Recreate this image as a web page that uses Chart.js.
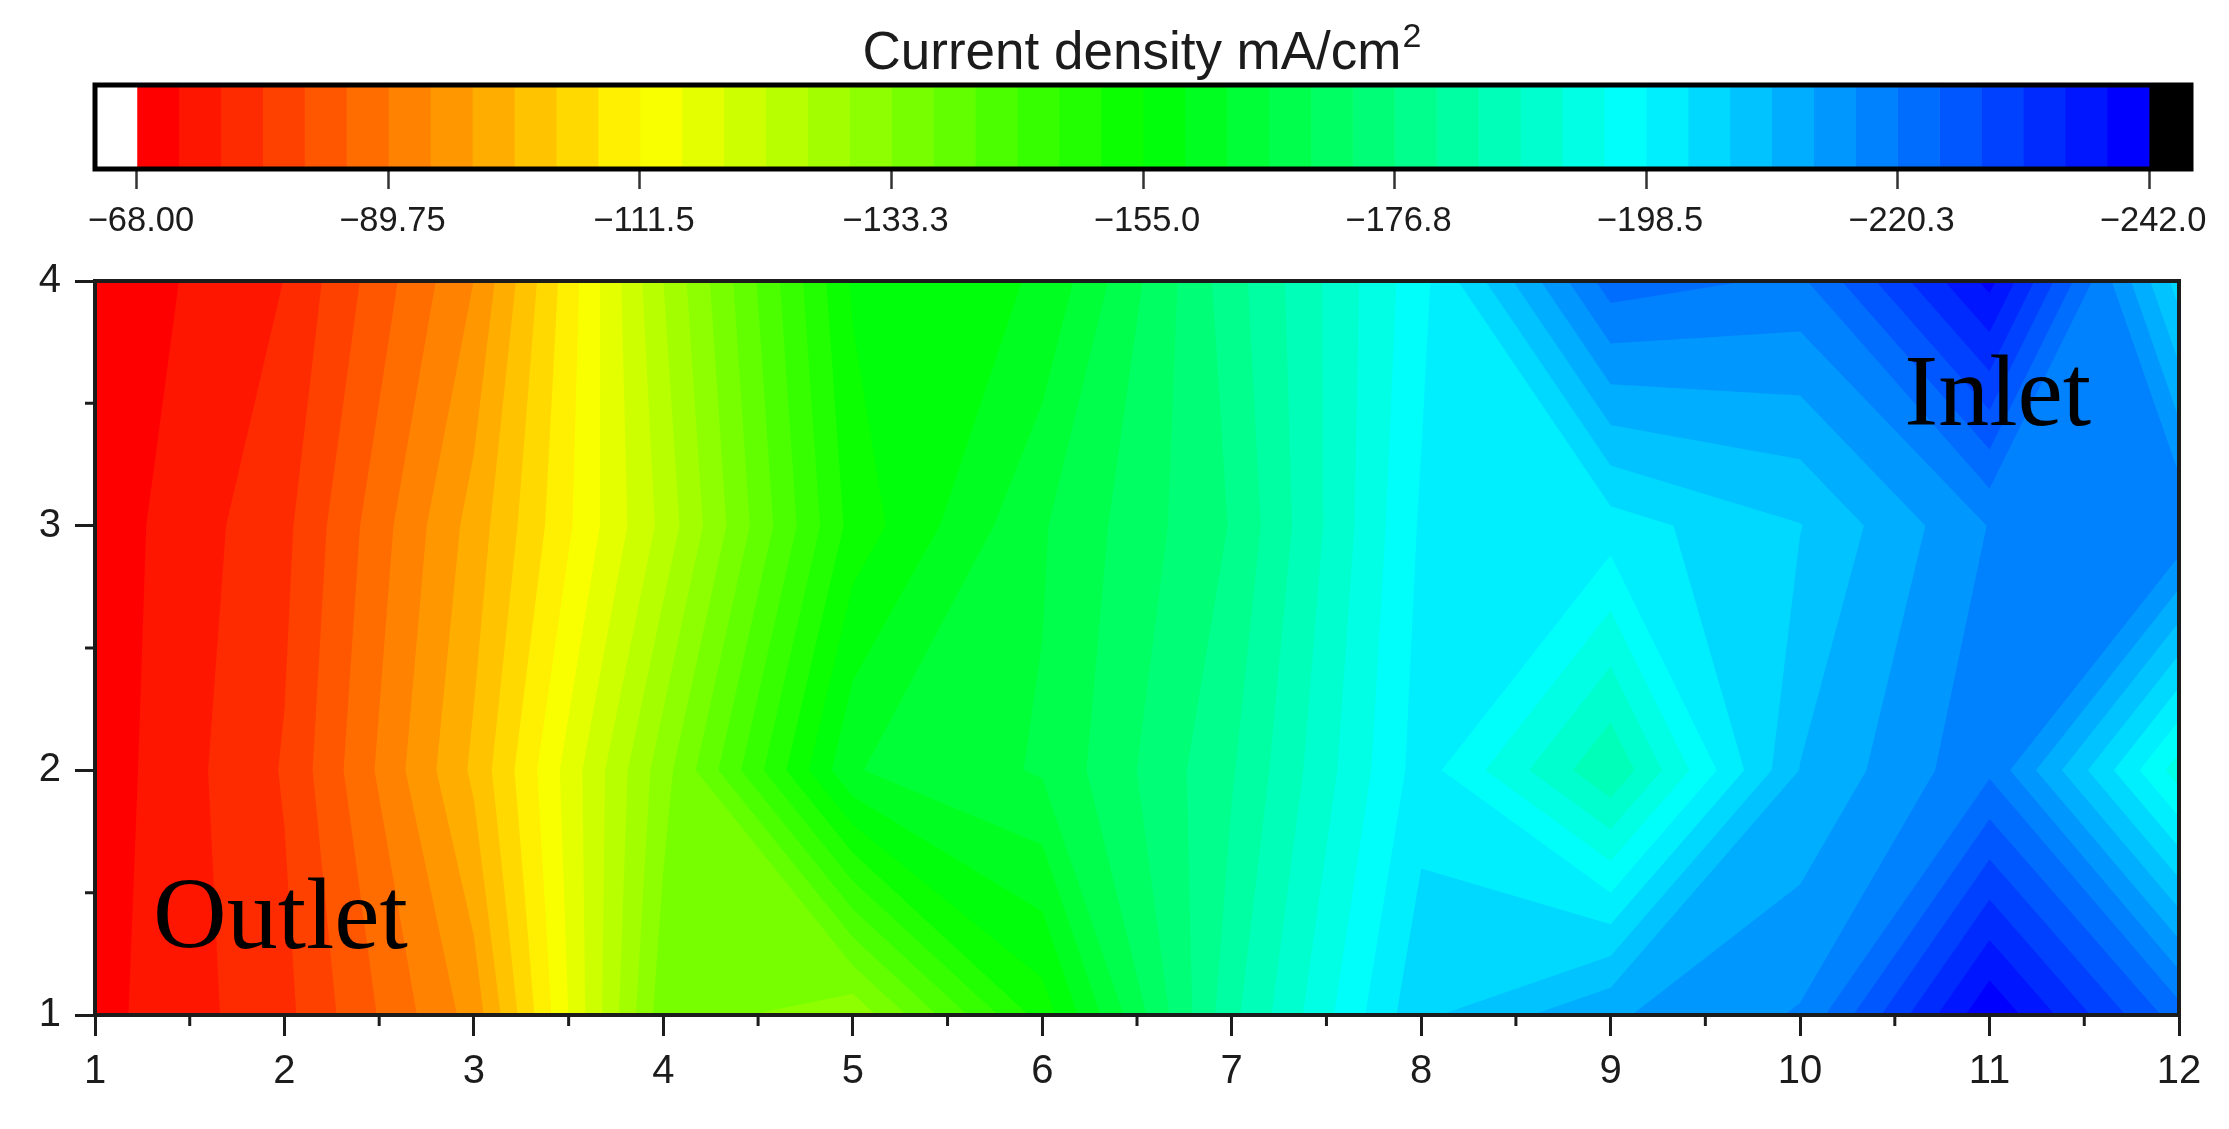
<!DOCTYPE html>
<html>
<head>
<meta charset="utf-8">
<title>Current density</title>
<script src="https://cdn.jsdelivr.net/npm/chart.js@4"></script>
<style>
    html, body { margin: 0; padding: 0; background: #fff; }
    canvas { display: block; }
</style>
</head>
<body>
<canvas id="colorbar" width="2229" height="243"></canvas>
<canvas id="contour" width="2229" height="886"></canvas>
<script>
// Grid of the contour plot
const xValues = [1, 2, 3, 4, 5, 6, 7, 8, 9, 10, 11, 12];
const yValues = [1, 2, 3, 4];
const xMinorTicks = [1.5, 2.5, 3.5, 4.5, 5.5, 6.5, 7.5, 8.5, 9.5, 10.5, 11.5];
const yMinorTicks = [1.5, 2.5, 3.5];

// Current density, one list per y row
const currentY1 = [-70.3, -77.8, -94.9, -135.5, -130.5, -153, -183, -205, -212.5, -217, -241.5, -222];
const currentY2 = [-69.4, -79.2, -101.4, -131.7, -162, -166.3, -180, -200.2, -184.5, -209.5, -219.5, -193];
const currentY3 = [-69.3, -77.9, -98.5, -123.5, -152.8, -165.5, -177, -199, -200.4, -205.6, -216.8, -220];
const currentY4 = [-68.7, -75.3, -93.4, -126, -155.5, -159, -178.8, -197.3, -222.2, -219.5, -239.5, -204];
const currentRows = [currentY1, currentY2, currentY3, currentY4];

// Colour scale
const scaleTop = -68;
const scaleStep = 3.625;
const bandCount = 48;
const scaleTicks = [-68, -89.75, -111.5, -133.25, -155, -176.75, -198.5, -220.25, -242];
const scaleTickLabels = ['\u221268.00', '\u221289.75', '\u2212111.5', '\u2212133.3', '\u2212155.0', '\u2212176.8', '\u2212198.5', '\u2212220.3', '\u2212242.0'];

const scaleTitle = 'Current density mA/cm';
const scaleTitleSup = '2';
const labelNames = ['Outlet', 'Inlet'];
const labelX = [1.306, 10.55];
const labelY = [1.273, 3.41];

const SANS = '"Liberation Sans", Arial, sans-serif';
const SERIF = '"Liberation Serif", "Times New Roman", serif';
const INK = '#1c1c1c';

// Rainbow, red to blue
function bandColor(i) {
    const t = i / (bandCount - 1) * 4;
    const seg = Math.min(Math.floor(t), 3);
    const f = t - seg;
    let r = 0, g = 0, b = 0;
    if (seg === 0) { r = 255; g = 255 * f; }
    if (seg === 1) { r = 255 * (1 - f); g = 255; }
    if (seg === 2) { g = 255; b = 255 * f; }
    if (seg === 3) { g = 255 * (1 - f); b = 255; }
    return `rgb(${Math.round(r)},${Math.round(g)},${Math.round(b)})`;
}

// One grid cell as a quad, corners in drawing order
function cellQuad(i, j) {
    const node = (a, b) => ({ x: xValues[a], y: yValues[b], z: currentRows[b][a] });
    return [node(i, j), node(i + 1, j), node(i + 1, j + 1), node(i, j + 1)];
}

// Part of a cell where z is at or below the level: crossings sit on the cell edges, joined straight
function clipBelow(quad, level) {
    const out = [];
    quad.forEach((p, k) => {
        const q = quad[(k + 1) % quad.length];
        if (p.z <= level) out.push(p);
        if ((p.z <= level) !== (q.z <= level)) {
            const s = (level - p.z) / (q.z - p.z);
            out.push({ x: p.x + s * (q.x - p.x), y: p.y + s * (q.y - p.y), z: level });
        }
    });
    return out;
}

const contourBands = {
    id: 'contourBands',
    beforeDatasetsDraw(chart) {
        const { ctx, scales: { x, y } } = chart;
        const cells = [];
        for (let j = 0; j < yValues.length - 1; j++) {
            for (let i = 0; i < xValues.length - 1; i++) {
                cells.push(cellQuad(i, j));
            }
        }
        ctx.save();
        for (let band = 0; band < bandCount; band++) {
            const level = scaleTop - band * scaleStep;
            ctx.beginPath();
            cells.forEach(quad => {
                const poly = clipBelow(quad, level);
                poly.forEach((p, k) => {
                    const px = x.getPixelForValue(p.x), py = y.getPixelForValue(p.y);
                    if (k === 0) ctx.moveTo(px, py); else ctx.lineTo(px, py);
                });
                if (poly.length) ctx.closePath();
            });
            ctx.fillStyle = bandColor(band);
            ctx.fill();
        }
        ctx.restore();
    },
    afterDraw(chart) {
        const { ctx, chartArea: area, scales: { x, y } } = chart;
        ctx.save();
        ctx.strokeStyle = INK;
        ctx.lineWidth = 3;
        ctx.beginPath();
        xMinorTicks.forEach(v => {
            const px = x.getPixelForValue(v);
            ctx.moveTo(px, area.bottom);
            ctx.lineTo(px, area.bottom + 11);
        });
        yMinorTicks.forEach(v => {
            const py = y.getPixelForValue(v);
            ctx.moveTo(area.left, py);
            ctx.lineTo(area.left - 10, py);
        });
        ctx.stroke();
        ctx.lineWidth = 4;
        ctx.strokeRect(area.left, area.top, area.right - area.left, area.bottom - area.top);

        ctx.fillStyle = '#000';
        ctx.font = `102px ${SERIF}`;
        ctx.textAlign = 'left';
        ctx.textBaseline = 'alphabetic';
        labelNames.forEach((name, k) => {
            ctx.fillText(name, x.getPixelForValue(labelX[k]), y.getPixelForValue(labelY[k]));
        });
        ctx.restore();
    }
};

const colorbarFrame = {
    id: 'colorbarFrame',
    afterDraw(chart) {
        const { ctx, chartArea: area } = chart;
        ctx.save();
        ctx.strokeStyle = '#000';
        ctx.lineWidth = 5;
        ctx.strokeRect(area.left, area.top, area.right - area.left, area.bottom - area.top);

        ctx.fillStyle = INK;
        ctx.textBaseline = 'alphabetic';
        ctx.textAlign = 'left';
        ctx.font = `53px ${SANS}`;
        const width = ctx.measureText(scaleTitle).width;
        const left = (area.left + area.right) / 2 - width / 2 - 11;
        ctx.fillText(scaleTitle, left, 69);
        ctx.font = `34px ${SANS}`;
        ctx.fillText(scaleTitleSup, left + width + 1, 47);
        ctx.restore();
    }
};

function initColorbar() {
    const datasets = [];
    // white box above the top level, black box below the last one
    datasets.push({ data: [[scaleTop + scaleStep, scaleTop]], backgroundColor: '#ffffff' });
    for (let i = 0; i < bandCount; i++) {
        datasets.push({
            data: [[scaleTop - i * scaleStep, scaleTop - (i + 1) * scaleStep]],
            backgroundColor: bandColor(i)
        });
    }
    const bottom = scaleTop - bandCount * scaleStep;
    datasets.push({ data: [[bottom, bottom - scaleStep]], backgroundColor: '#000000' });

    new Chart(document.getElementById('colorbar'), {
        type: 'bar',
        data: { labels: ['current'], datasets: datasets },
        plugins: [colorbarFrame],
        options: {
            indexAxis: 'y',
            responsive: false,
            animation: false,
            devicePixelRatio: 1,
            layout: { padding: { left: 95, right: 38, top: 85, bottom: 0 } },
            datasets: { bar: { grouped: false, barPercentage: 1, categoryPercentage: 1, borderWidth: 0 } },
            plugins: { legend: { display: false }, tooltip: { enabled: false }, title: { display: false } },
            scales: {
                y: { display: false },
                x: {
                    type: 'linear',
                    reverse: true,
                    min: bottom - scaleStep,
                    max: scaleTop + scaleStep,
                    afterBuildTicks: scale => { scale.ticks = scaleTicks.map(v => ({ value: v })); },
                    afterFit: scale => { scale.height = 74; },
                    border: { display: false },
                    grid: { drawOnChartArea: false, drawTicks: true, tickLength: 20, tickWidth: 2.5, tickColor: '#333' },
                    ticks: {
                        autoSkip: false,
                        maxRotation: 0,
                        padding: 12,
                        labelOffset: 4,
                        color: INK,
                        font: { family: SANS, size: 34.5 },
                        callback: (value, index) => scaleTickLabels[index]
                    }
                }
            }
        }
    });
}

function initContour() {
    const points = [];
    yValues.forEach((y, j) => {
        xValues.forEach((x, i) => {
            points.push({ x: x, y: y, z: currentRows[j][i] });
        });
    });

    new Chart(document.getElementById('contour'), {
        type: 'scatter',
        data: { datasets: [{ data: points, pointRadius: 0, showLine: false }] },
        plugins: [contourBands],
        options: {
            responsive: false,
            animation: false,
            devicePixelRatio: 1,
            layout: { padding: { left: 0, right: 50, top: 3, bottom: 0 } },
            plugins: { legend: { display: false }, tooltip: { enabled: false } },
            scales: {
                x: {
                    type: 'linear',
                    min: 1,
                    max: 12,
                    afterBuildTicks: scale => { scale.ticks = xValues.map(v => ({ value: v })); },
                    afterFit: scale => { scale.height = 114; },
                    border: { display: false },
                    grid: { drawOnChartArea: false, tickLength: 21, tickWidth: 3, tickColor: INK },
                    ticks: { autoSkip: false, maxRotation: 0, padding: 12, color: INK, font: { family: SANS, size: 40 } }
                },
                y: {
                    type: 'linear',
                    min: 1,
                    max: 4,
                    afterBuildTicks: scale => { scale.ticks = yValues.map(v => ({ value: v })); },
                    afterFit: scale => { scale.width = 95; },
                    border: { display: false },
                    grid: { drawOnChartArea: false, tickLength: 20, tickWidth: 3, tickColor: INK },
                    ticks: { padding: 14, color: INK, font: { family: SANS, size: 40 } }
                }
            }
        }
    });
}

document.addEventListener('DOMContentLoaded', () => {
    initColorbar();
    initContour();
});
</script>
</body>
</html>
